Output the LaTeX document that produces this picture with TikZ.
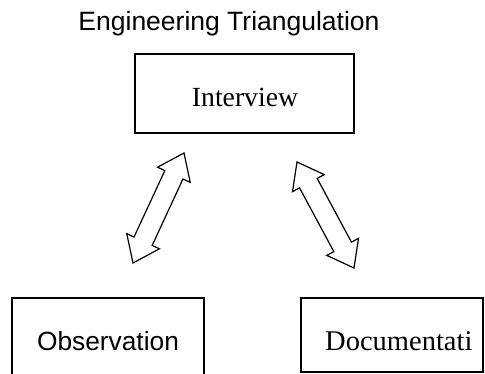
\documentclass[tikz,border=0pt]{standalone}
\usepackage{fontspec}
\newfontfamily\arialf{Liberation Sans}
\newfontfamily\timesf{Liberation Serif}
\usetikzlibrary{calc}
\tikzset{
  boxstyle/.style={draw, line width=1.2pt, rectangle, inner sep=0pt},
  arrowline/.style={draw, line width=1.2pt, line join=miter, fill=white},
  lbl/.style={inner sep=0pt, anchor=base}
}
\newcommand{\dblblockarrow}[2]{%
  \path[arrowline] (#1)
    -- ($(#1)!24pt!(#2)!18pt!90:(#2)$)
    -- ($(#1)!24pt!(#2)!10pt!90:(#2)$)
    -- ($(#2)!24pt!(#1)!10pt!-90:(#1)$)
    -- ($(#2)!24pt!(#1)!18pt!-90:(#1)$)
    -- (#2)
    -- ($(#2)!24pt!(#1)!18pt!90:(#1)$)
    -- ($(#2)!24pt!(#1)!10pt!90:(#1)$)
    -- ($(#1)!24pt!(#2)!10pt!-90:(#2)$)
    -- ($(#1)!24pt!(#2)!18pt!-90:(#2)$)
    -- cycle;}
\begin{document}
\begin{tikzpicture}[x=1pt,y=-1pt]
\useasboundingbox (0,0) rectangle (485,373);
\clip (0,0) rectangle (485,373);
\fill[white] (0,0) rectangle (485,373);
% title
\node[lbl, font=\arialf\fontsize{26.5}{30}\selectfont] (title) at (229,30) {Engineering Triangulation};
% boxes
\node[boxstyle, minimum width=219pt, minimum height=79pt] (interview) at (244.5,93.5) {};
\node[boxstyle, minimum width=192pt, minimum height=100pt] (observation) at (108,348) {};
\node[boxstyle, minimum width=182pt, minimum height=74pt] (documentation) at (392,335) {};
% texts
\node[lbl, font=\timesf\fontsize{27.7}{31}\selectfont] (interviewtext) at (245,106) {Interview};
\node[lbl, font=\arialf\fontsize{26.3}{30}\selectfont] (observationtext) at (108,350) {Observation};
\node[lbl, anchor=base west, font=\timesf\fontsize{28.5}{31}\selectfont] (documentationtext) at (325,350) {Documentati};
% block double arrows
\coordinate (la) at (184,153);
\coordinate (lb) at (133,263);
\coordinate (ra) at (297,162);
\coordinate (rb) at (354,268);
\dblblockarrow{la}{lb}
\dblblockarrow{ra}{rb}
\end{tikzpicture}
\end{document}
